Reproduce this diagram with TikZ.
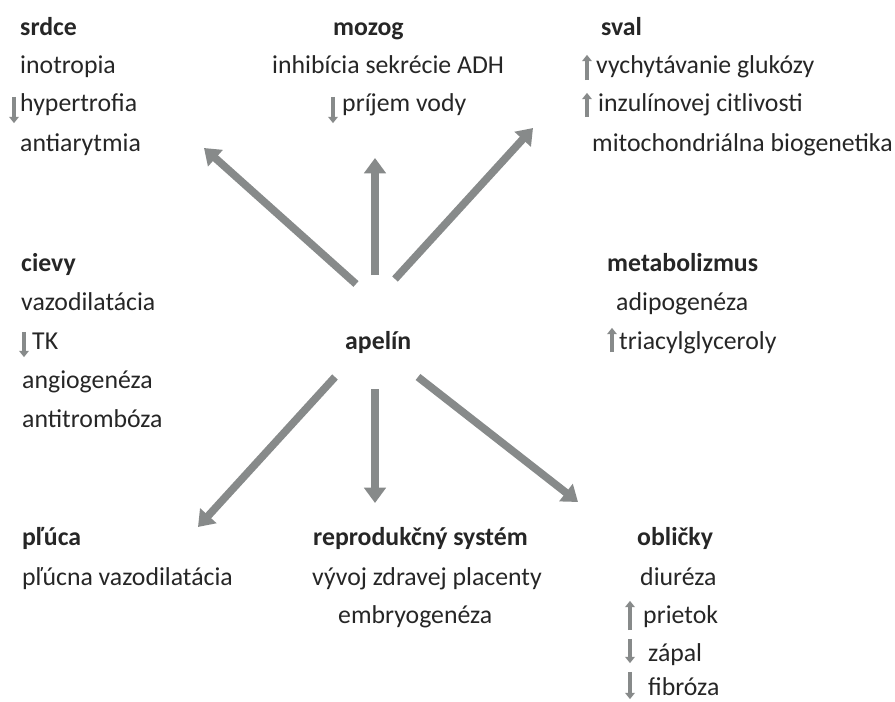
\documentclass[tikz,border=0pt]{standalone}
\usepackage{fontspec}
\setmainfont{Carlito}
\usepackage{tikz}
\usetikzlibrary{arrows.meta}
\definecolor{arrowgray}{HTML}{878A8A}
\definecolor{textdark}{HTML}{262626}
\tikzset{
  every node/.style={font=\fontsize{22}{26}\selectfont, text=textdark,
    inner sep=0pt, text height=18pt, text depth=4pt},
  organ/.style={anchor=west, font=\fontsize{22}{26}\selectfont\bfseries},
  effect/.style={anchor=west},
  bigarrow/.style={-{Triangle[length=4.6mm, width=6.4mm]}, line width=2.3mm, arrowgray},
  smallarrow/.style={-{Triangle[length=1.9mm, width=2.9mm]}, line width=1.1mm, arrowgray},
}

\begin{document}
\begin{tikzpicture}[x=0.3mm, y=-0.3mm]
\useasboundingbox (0,0) rectangle (895,702);

% ── srdce ────────────────────────────────────────────────
\node[organ]  (srdce)  at (20,27)  {srdce};
\node[effect] (srdce1) at (20,65)  {inotropia};
\node[effect] (srdce2) at (20,103) {hypertrofia};
\node[effect] (srdce3) at (20,143) {antiarytmia};

% ── mozog ────────────────────────────────────────────────
\node[organ]  (mozog)  at (333,27)  {mozog};
\node[effect] (mozog1) at (272,65)  {inhibícia sekrécie ADH};
\node[effect] (mozog2) at (342,103) {príjem vody};

% ── sval ─────────────────────────────────────────────────
\node[organ]  (sval)  at (601,27)  {sval};
\node[effect] (sval1) at (596,65)  {vychytávanie glukózy};
\node[effect] (sval2) at (598,103) {inzulínovej citlivosti};
\node[effect] (sval3) at (592,143) {mitochondriálna biogenetika};

% ── cievy ────────────────────────────────────────────────
\node[organ]  (cievy)  at (21,263) {cievy};
\node[effect] (cievy1) at (21,302) {vazodilatácia};
\node[effect] (cievy2) at (32,341) {TK};
\node[effect] (cievy3) at (22,380) {angiogenéza};
\node[effect] (cievy4) at (22,419) {antitrombóza};

% ── apelín (center) ──────────────────────────────────────
\node[organ] (apelin) at (345,341) {apelín};

% ── metabolizmus ─────────────────────────────────────────
\node[organ]  (metab)  at (607,263) {metabolizmus};
\node[effect] (metab1) at (616,302) {adipogenéza};
\node[effect] (metab2) at (619,341) {triacylglyceroly};

% ── pľúca ────────────────────────────────────────────────
\node[organ]  (pluca)  at (22,537) {pľúca};
\node[effect] (pluca1) at (22,577) {pľúcna vazodilatácia};

% ── reprodukčný systém ───────────────────────────────────
\node[organ]  (repro)  at (313,537) {reprodukčný systém};
\node[effect] (repro1) at (312,577) {vývoj zdravej placenty};
\node[effect] (repro2) at (338,615) {embryogenéza};

% ── obličky ──────────────────────────────────────────────
\node[organ]  (oblicky)  at (637,537) {obličky};
\node[effect] (oblicky1) at (640,577) {diuréza};
\node[effect] (oblicky2) at (643,615) {prietok};
\node[effect] (oblicky3) at (648,653) {zápal};
\node[effect] (oblicky4) at (648,687) {fibróza};

% ── small up/down marks ──────────────────────────────────
\draw[smallarrow] ([xshift=-1.8mm, yshift=-2.1mm]srdce2.north west) -- ([xshift=-1.8mm, yshift=-2.1mm]srdce2.south west);
\draw[smallarrow] ([xshift=-2.7mm, yshift=-2.1mm]mozog2.north west) -- ([xshift=-2.7mm, yshift=-2.1mm]mozog2.south west);
\draw[smallarrow] ([xshift=-2.7mm, yshift=-0.6mm]sval1.south west) -- ([xshift=-2.7mm, yshift=-0.9mm]sval1.north west);
\draw[smallarrow] ([xshift=-3.3mm, yshift=-0.3mm]sval2.south west) -- ([xshift=-3.3mm, yshift=-0.9mm]sval2.north west);
\draw[smallarrow] ([xshift=-2.4mm, yshift=-1.2mm]cievy2.north west) -- ([xshift=-2.4mm, yshift=-0.9mm]cievy2.south west);
\draw[smallarrow] ([xshift=-2.1mm, yshift=0.6mm]metab2.south west) -- ([xshift=-2.1mm]metab2.north west);
\draw[smallarrow] ([xshift=-3.9mm, yshift=-0.6mm]oblicky2.south west) -- ([xshift=-3.9mm, yshift=0.3mm]oblicky2.north west);
\draw[smallarrow] ([xshift=-5.4mm, yshift=0.3mm]oblicky3.north west) -- ([xshift=-5.4mm, yshift=0.9mm]oblicky3.south west);
\draw[smallarrow] ([xshift=-5.4mm, yshift=0.6mm]oblicky4.north west) -- ([xshift=-5.4mm, yshift=0.3mm]oblicky4.south west);

% ── big arrows out of apelín ─────────────────────────────
\coordinate (t-srdce)   at (356,284);
\coordinate (h-srdce)   at (204,148);
\coordinate (t-mozog)   at (375,275);
\coordinate (h-mozog)   at (375,158);
\coordinate (t-sval)    at (395,279);
\coordinate (h-sval)    at (533,128);
\coordinate (t-pluca)   at (335,377);
\coordinate (h-pluca)   at (198,527);
\coordinate (t-repro)   at (375,389);
\coordinate (h-repro)   at (375,503);
\coordinate (t-oblicky) at (418,377);
\coordinate (h-oblicky) at (578,502);

\draw[bigarrow] (t-srdce) -- (h-srdce);
\draw[bigarrow] (t-mozog) -- (h-mozog);
\draw[bigarrow] (t-sval) -- (h-sval);
\draw[bigarrow] (t-pluca) -- (h-pluca);
\draw[bigarrow] (t-repro) -- (h-repro);
\draw[bigarrow] (t-oblicky) -- (h-oblicky);

\end{tikzpicture}
\end{document}
